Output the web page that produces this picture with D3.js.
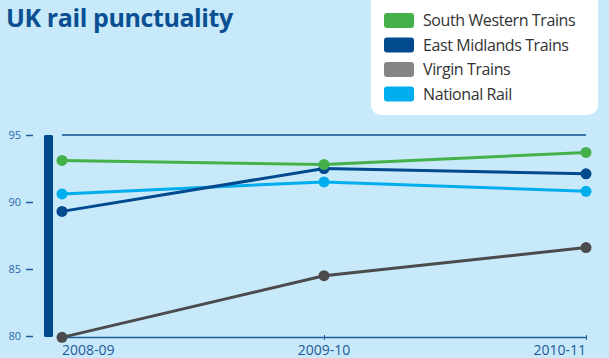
<!DOCTYPE html>
<html>
<head>
<meta charset="utf-8">
<script src="https://cdn.jsdelivr.net/npm/d3@7"></script>
<style>
body { margin: 0; background: #c7e9f9; }
svg { display: block; font-family: "Open Sans", "Noto Sans", sans-serif; }
</style>
</head>
<body>
<script>
var years = ['2008-09', '2009-10', '2010-11'];
var southWestern = [93.1, 92.8, 93.7];
var eastMidlands = [89.3, 92.5, 92.1];
var virgin = [79.9, 84.5, 86.6];
var nationalRail = [90.6, 91.5, 90.8];
var yTicks = [80, 85, 90, 95];

var series = [
	{ name: 'South Western Trains', values: southWestern, line: '#44b04a', key: '#44b04a' },
	{ name: 'East Midlands Trains', values: eastMidlands, line: '#004a8d', key: '#004a8d' },
	{ name: 'Virgin Trains', values: virgin, line: '#4b4b4d', key: '#858585' },
	{ name: 'National Rail', values: nationalRail, line: '#00aeef', key: '#00aeef' }
];
// draw order: light blue under dark blue under green, gray
var drawOrder = [3, 2, 1, 0];

var width = 609,
	height = 358;

var svg = d3.select('body').append('svg')
	.attr('width', width)
	.attr('height', height);

svg.append('rect').attr('width', width).attr('height', height).attr('fill', '#c7e9f9');

var xScale = d3.scalePoint().domain(years).range([62, 586]);
var yScale = d3.scaleLinear().domain([80, 95]).range([336, 135]);

// title
svg.append('text')
	.attr('x', 6).attr('y', 27)
	.attr('fill', '#0a4f91')
	.attr('font-size', 25)
	.attr('font-weight', 'bold')
	.attr('letter-spacing', -0.4)
	.text('UK rail punctuality');

// legend box
var legend = svg.append('g');
legend.append('rect')
	.attr('x', 371).attr('y', -12)
	.attr('width', 227).attr('height', 127)
	.attr('rx', 10)
	.attr('fill', '#ffffff');

var items = legend.selectAll('.item')
	.data(series)
	.enter()
	.append('g')
	.attr('transform', (d, i) => `translate(384, ${13 + i * 24.5})`);

items.append('rect')
	.attr('width', 30).attr('height', 15)
	.attr('rx', 3)
	.attr('fill', d => d.key);

items.append('text')
	.attr('x', 39).attr('y', 13)
	.attr('font-size', 16)
	.attr('letter-spacing', -0.4)
	.attr('fill', '#333333')
	.text(d => d.name);

// y axis
var yAxis = d3.axisLeft(yScale).tickValues(yTicks).tickSize(7).tickPadding(5);
var yG = svg.append('g').attr('transform', 'translate(33, 0)').call(yAxis);
yG.select('.domain').remove();
yG.selectAll('line').attr('stroke', '#1f5e9e').attr('stroke-width', 1.5);
yG.selectAll('text').attr('fill', '#2b6aa9').attr('font-size', 11).attr('font-family', '"Open Sans", sans-serif');

// thick bar
svg.append('rect')
	.attr('x', 44).attr('y', yScale(95))
	.attr('width', 9).attr('height', yScale(80) - yScale(95) + 1)
	.attr('rx', 1.5)
	.attr('fill', '#004a8d');

// top rule
svg.append('line')
	.attr('x1', xScale(years[0])).attr('x2', xScale(years[2]))
	.attr('y1', yScale(95)).attr('y2', yScale(95))
	.attr('stroke', '#0a4f91').attr('stroke-width', 1.3);

// x axis
var xAxis = d3.axisBottom(xScale).tickSize(3).tickSizeOuter(0).tickFormat('');
var xG = svg.append('g').attr('transform', `translate(0, ${yScale(80) + 1})`).call(xAxis);
xG.select('.domain').attr('stroke', '#1f5e9e').attr('stroke-width', 1.3);
xG.selectAll('line').attr('stroke', '#1f5e9e').attr('y1', -2);
xG.selectAll('.tick').filter(d => d === years[0]).remove();

svg.selectAll('.xlabel')
	.data(years)
	.enter()
	.append('text')
	.attr('x', d => xScale(d))
	.attr('y', 355)
	.attr('text-anchor', (d, i) => ['start', 'middle', 'end'][i])
	.attr('font-size', 14)
	.attr('fill', '#1d5a9a')
	.text(d => d);

// lines
var line = d3.line()
	.x((d, i) => xScale(years[i]))
	.y(d => yScale(d));

drawOrder.forEach(k => {
	var s = series[k];
	var g = svg.append('g');
	g.append('path')
		.attr('d', line(s.values))
		.attr('fill', 'none')
		.attr('stroke', s.line)
		.attr('stroke-width', 3);
	g.selectAll('circle')
		.data(s.values)
		.enter()
		.append('circle')
		.attr('cx', (d, i) => xScale(years[i]))
		.attr('cy', d => yScale(d))
		.attr('r', 5.5)
		.attr('fill', s.line);
});
</script>
</body>
</html>
